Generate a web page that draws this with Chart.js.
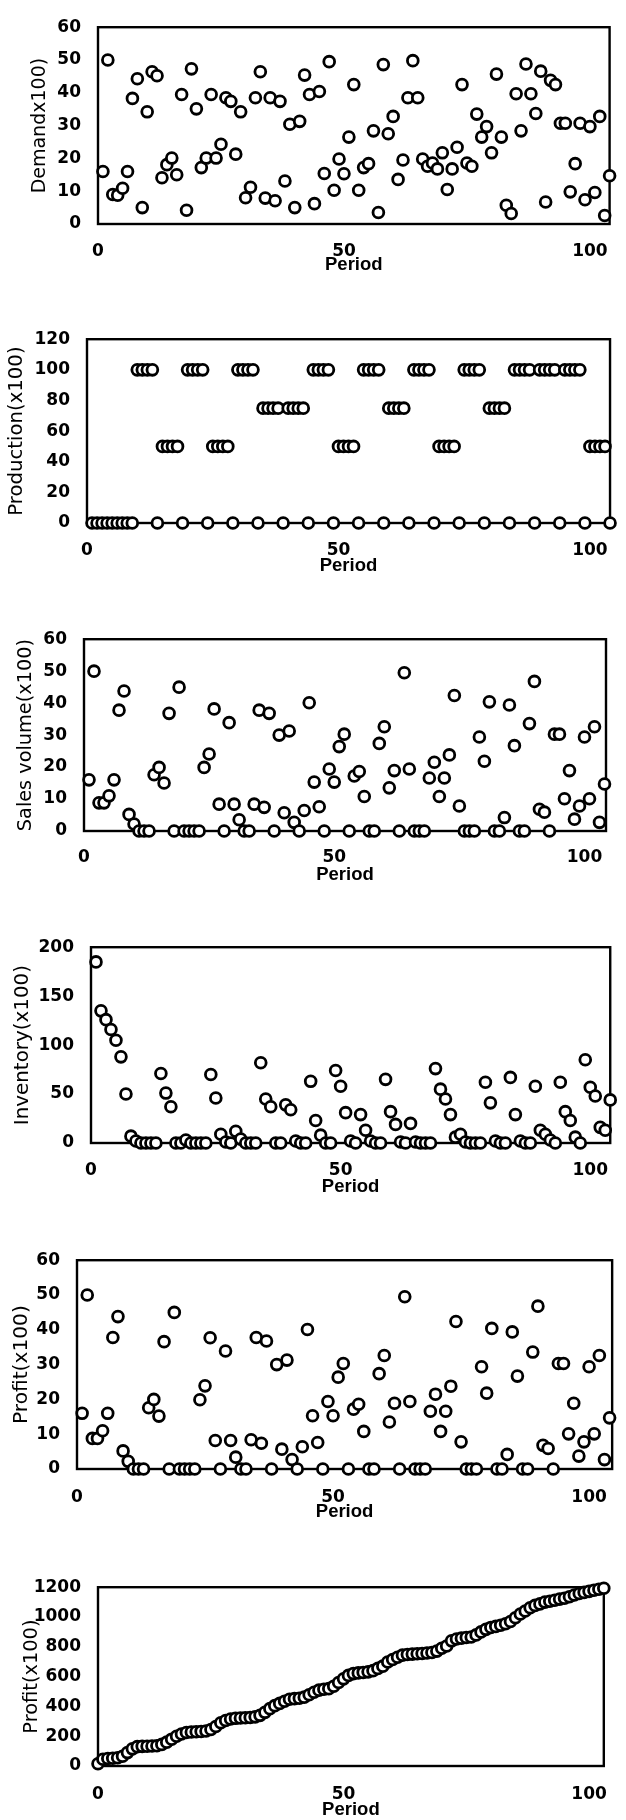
<!DOCTYPE html>
<html><head><meta charset="utf-8">
<script src="https://cdn.jsdelivr.net/npm/chart.js@4.4.1/dist/chart.umd.min.js"></script>
<style>
html,body{margin:0;padding:0;background:#fff;}
body{width:626px;height:1820px;position:relative;overflow:hidden;}
canvas{position:absolute;left:0;}
</style></head><body>
<canvas id="c1"></canvas><canvas id="c2"></canvas><canvas id="c3"></canvas>
<canvas id="c4"></canvas><canvas id="c5"></canvas><canvas id="c6"></canvas>
<script>
// ---- data ----
const periods = Array.from({length:104},(_,i)=>i+1);   // periods 1..104
const cumIndex = Array.from({length:104},(_,i)=>i);    // cumulative plot x index 0..103

const demand = [16.0,50.0,9.0,8.8,10.9,16.0,38.3,44.3,5.0,34.2, 46.4,45.2,14.1,18.1,20.1,15.0,39.5,4.2,47.3,35.1,
 17.2,20.1,39.5,20.1,24.3,38.5,37.4,21.3,34.2,8.0, 11.2,38.5,46.4,7.9,38.5,7.1,37.4,13.1,30.4,5.0,
 31.3,45.4,39.5,6.2,40.4,15.4,49.5,10.3,19.8,15.3, 26.5,42.5,10.3,17.2,18.4,28.4,3.5,48.6,27.5,32.8,
 13.6,19.5,38.5,49.8,38.5,19.8,17.6,18.6,16.8,21.7, 10.5,16.8,23.4,42.5,18.6,17.6,33.5,26.5,29.7,21.7,
 45.7,26.5,5.7,3.2,39.7,28.4,48.8,39.7,33.7,46.6, 6.7,43.8,42.5,30.7,30.7,9.8,18.4,30.7,7.4,29.7,
 9.6,32.8,2.6,14.7];

const production = [0,0,0,0,0,0,0,0,0, 100,100,100,100,0, 50,50,50,50,0, 100,100,100,100,0, 50,50,50,50,0,
 100,100,100,100,0, 75,75,75,75,0, 75,75,75,75,0, 100,100,100,100,0, 50,50,50,50,0, 100,100,100,100,0,
 75,75,75,75,0, 100,100,100,100,0, 50,50,50,50,0, 100,100,100,100,0, 75,75,75,75,0, 100,100,100,100,0,
 100,100,100,100,0, 100,100,100,100,0, 50,50,50,50,0];

const sales = [16,50,8.8,8.8,11,16,37.8,43.8,5.2,2.2, 0,0,0,17.6,19.9,15,36.8,0,45,0,
 0,0,0,19.9,24.1,38.2,8.4,0,33.9,8.4, 3.5,0,0,8.4,37.8,7.4,36.8,0,30,5.7,
 31.3,2.7,0,6.4,40.1,15.3,7.6,0,19.4,15.3, 26.4,30.3,0,17.2,18.6,10.8,0,0,27.4,32.6,
 13.5,18.9,0,49.5,19.4,0,0,0,16.6,21.5, 10.8,16.6,23.8,42.4,7.8,0,0,0,29.4,21.8,
 40.4,0,0,4.2,39.4,26.7,0,0,33.6,46.8, 6.8,5.9,0,30.3,30.3,10.1,18.9,3.7,7.8,29.4,
 10.1,32.6,2.7,14.7];

const inventory = [185,135,126,116,105,88,50,7,2,0, 0,0,0,71,51,37,0,0,3,0,
 0,0,0,70,46,9,1,0,12,4, 0,0,0,82,45,37,0,0,39,34,
 2,0,0,63,23,8,0,0,74,58, 31,2,0,29,13,2,0,0,65,32,
 19,1,0,20,1,0,0,0,76,55, 45,29,6,9,1,0,0,0,62,41,
 2,0,0,67,29,2,0,0,58,13, 9,3,0,62,32,23,6,0,85,57,
 48,16,13,44];

const profit = [16,50,8.8,8.8,11,16,37.8,43.8,5.2,2.2, 0,0,0,17.6,20,15.2,36.6,0,45,0,
 0,0,0,19.9,23.9,37.7,8.2,0,33.9,8.2, 3.4,0,0,8.4,37.8,7.4,36.8,0,30,5.7,
 31.3,2.7,0,6.4,40.1,15.3,7.6,0,19.4,15.3, 26.4,30.3,0,17.2,18.6,10.8,0,0,27.4,32.6,
 13.5,18.9,0,49.5,19.4,0,0,0,16.6,21.5, 10.8,16.6,23.8,42.4,7.8,0,0,0,29.4,21.8,
 40.4,0,0,4.2,39.4,26.7,0,0,33.6,46.8, 6.8,5.9,0,30.3,30.3,10.1,18.9,3.7,7.8,29.4,
 10.1,32.6,2.7,14.7];

const cumProfit = [15,45,50,52,55,65,90,115,130,132, 133,134,136,145,160,180,200,215,225,228,
 230,232,235,245,265,290,305,315,320,322, 324,326,330,340,360,385,405,420,435,448,
 452,455,462,478,495,509,515,519,535,560, 585,608,620,625,628,632,640,655,670,698,
 715,730,744,748,751,753,755,758,762,771, 790,805,840,852,858,862,866,880,900,917,
 930,937,945,955,970,995,1020,1040,1062,1078, 1088,1100,1106,1112,1120,1126,1136,1148,1158,1165,
 1172,1180,1186,1193];

const xTickValues = [0,50,100];
const xTitle = 'Period';
const yTitles = ['Demandx100)','Production(x100)','Sales volume(x100)','Inventory(x100)','Profit(x100)','Profit(x100)'];

// ---- layout per panel (plot rectangles) ----
const panels = [
 {id:'c1', xs:periods,  ys:demand,     ymax:60,   ystep:10,  xmin:0, xmax:104,   rect:[98,15,612,224],    tSize:19,   tX:40.5, tickOff:28,   titOff:41},
 {id:'c2', xs:periods,  ys:production, ymax:120,  ystep:20,  xmin:0, xmax:104,   rect:[87,327,612,523],   tSize:19.7, tX:17,   tickOff:28,   titOff:43.4},
 {id:'c3', xs:periods,  ys:sales,      ymax:60,   ystep:10,  xmin:0, xmax:104.3, rect:[84,627,606,831],   tSize:19.3, tX:25.7, tickOff:26.5, titOff:44},
 {id:'c4', xs:periods,  ys:inventory,  ymax:200,  ystep:50,  xmin:0, xmax:104,   rect:[91,935,613,1143],  tSize:19.9, tX:22.5, tickOff:27.7, titOff:43.7},
 {id:'c5', xs:periods,  ys:profit,     ymax:60,   ystep:10,  xmin:0, xmax:104.5, rect:[77,1248,622,1469], tSize:20.2, tX:21.7, tickOff:29,   titOff:42.7},
 {id:'c6', xs:cumIndex, ys:cumProfit,  ymax:1200, ystep:200, xmin:0, xmax:103,   rect:[98,1575,613,1766], tSize:19.4, tX:31.7, tickOff:29,   titOff:44}
];

const tickFont = {family:'DejaVu Sans', weight:'bold', size:17};
const xTitleFont = {family:"'Liberation Sans',Arial,sans-serif", weight:'bold', size:18.5};

const framePlugin = {
  id:'frame',
  beforeDatasetsDraw(chart){
    const {ctx, chartArea:{left,top,right,bottom}} = chart;
    ctx.save(); ctx.strokeStyle='#000'; ctx.lineWidth=2.4;
    ctx.strokeRect(left, top, right-left, bottom-top);
    ctx.restore();
  }
};

panels.forEach((p, k) => {
  const [L,T,R,B] = p.rect;
  const cTop = T - 15;
  const cBot = B + 70;
  const H = cBot - cTop;
  const cv = document.getElementById(p.id);
  cv.width = 626; cv.height = H;
  cv.style.top = cTop + 'px'; cv.style.width='626px'; cv.style.height = H+'px';
  const tickLH = tickFont.size*1.2;
  const titleLH = xTitleFont.size*1.2;
  const Hx = p.titOff + titleLH/2;
  const padB = H - (B - cTop) - Hx;
  const yTitleLH = p.tSize*1.2;
  new Chart(cv, {
    type:'scatter',
    data:{datasets:[{
      data: p.xs.map((x,i)=>({x:x, y:p.ys[i]})),
      pointRadius:5.4, pointHoverRadius:5.4, pointBorderWidth:2.8, pointHoverBorderWidth:2.8,
      pointBackgroundColor:'#fff', pointBorderColor:'#000',
      showLine:false, clip:false
    }]},
    options:{
      responsive:false, animation:false, devicePixelRatio:1,
      elements:{point:{radius:5.4, borderWidth:2.8, backgroundColor:'#fff', borderColor:'#000'}},
      layout:{padding:{left:0, right:626-R, top:15, bottom:padB}},
      plugins:{legend:{display:false}, tooltip:{enabled:false}},
      events:[],
      scales:{
        x:{type:'linear', min:p.xmin, max:p.xmax,
          afterBuildTicks: s => { s.ticks = xTickValues.map(v=>({value:v})); },
          ticks:{callback:v=>String(v), font:tickFont, color:'#000', padding:p.tickOff - tickLH/2, maxRotation:0, autoSkip:false},
          grid:{display:false, drawTicks:false}, border:{display:false},
          title:{display:true, text:xTitle, font:xTitleFont, color:'#000', padding:0},
          afterFit: s => { s.height = Hx; }
        },
        y:{type:'linear', min:0, max:p.ymax,
          ticks:{stepSize:p.ystep, callback:v=>String(v), font:tickFont, color:'#000', padding:17},
          grid:{display:false, drawTicks:false}, border:{display:false},
          title:{display:true, text:yTitles[k], font:{family:'DejaVu Sans', size:p.tSize}, color:'#000', padding:{top:p.tX - yTitleLH/2, bottom:0}},
          afterFit: s => { s.width = L; }
        }
      }
    },
    plugins:[framePlugin]
  });
});
</script>
</body></html>
